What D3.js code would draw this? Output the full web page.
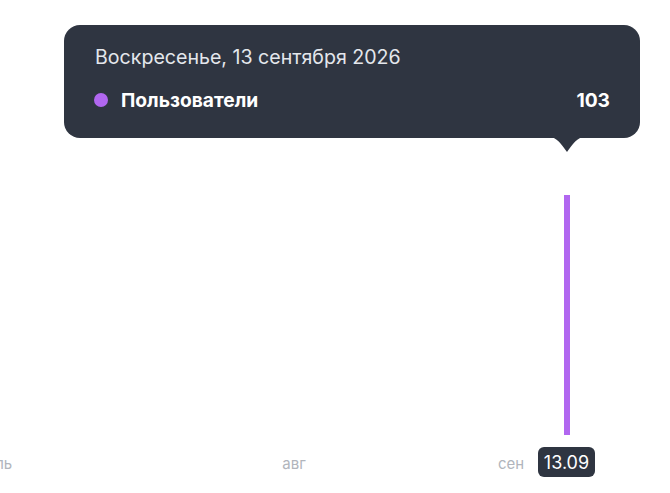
<!DOCTYPE html>
<html><head><meta charset="utf-8">
<script src="https://cdn.jsdelivr.net/npm/d3@7"></script>
<style>
html,body{margin:0;padding:0;background:#fff;}
svg{display:block;font-family:Inter,"Noto Sans",sans-serif;}
</style></head>
<body><svg id="c" width="670" height="493"></svg>
<script>
// ---- data ----
const seriesName = "Пользователи";
const dates = ["2026-09-13"];
const values = [103];
const tickDates = ["2026-06-23", "2026-08-05", "2026-09-05"];
const tickLabels = ["июль", "авг", "сен"];
const domainDates = ["2026-06-24", "2026-09-26"];
const tooltipTitle = "Воскресенье, 13 сентября 2026";
const activeLabel = "13.09";

const W = 670, H = 493;
const parse = d3.utcParse("%Y-%m-%d");
const svg = d3.select("#c");

const x = d3.scaleUtc().domain(domainDates.map(parse)).range([0, 658]);
const y = d3.scaleLinear().domain([0, 103]).range([435, 195]);

const purple = "#b167f0";
const dark = "#2f3541";

// bars
const data = dates.map((d, i) => ({date: parse(d), value: values[i]}));
svg.append("g").selectAll("rect").data(data).join("rect")
  .attr("x", d => x(d.date) - 3)
  .attr("width", 6)
  .attr("y", d => y(d.value))
  .attr("height", d => y(0) - y(d.value))
  .attr("fill", purple);

// x axis
const axisY = 469;
const ticks = tickDates.map((d, i) => ({date: parse(d), label: tickLabels[i]}));
svg.append("g").selectAll("text").data(ticks).join("text")
  .attr("x", d => x(d.date))
  .attr("y", axisY)
  .attr("text-anchor", "middle")
  .attr("font-size", 15)
  .attr("fill", "#b1b5bc")
  .text(d => d.label);

// active label
const ax = x(data[0].date);
const ag = svg.append("g");
ag.append("rect").attr("x", ax - 29).attr("y", 447).attr("width", 57).attr("height", 30)
  .attr("rx", 6).attr("fill", dark);
ag.append("text").attr("x", ax - 0.5).attr("y", 469).attr("text-anchor", "middle")
  .attr("font-size", 18).attr("fill", "#fff").text(activeLabel);

// tooltip
const tg = svg.append("g");
const bx0 = 64, bx1 = 640, by0 = 25, by1 = 138, r = 16;
tg.append("rect").attr("x", bx0).attr("y", by0).attr("width", bx1 - bx0).attr("height", by1 - by0)
  .attr("rx", r).attr("fill", dark);
// pointer
const px = ax, py = by1;
tg.append("path")
  .attr("d", `M${px-18},${py-1} C${px-10},${py-1} ${px-6},${py+6} ${px},${py+14} C${px+6},${py+6} ${px+10},${py-1} ${px+18},${py-1} Z`)
  .attr("fill", dark);
tg.append("text").attr("x", 95).attr("y", 64).attr("font-size", 19.6).attr("fill", "#e4e7ec")
  .text(tooltipTitle);
tg.append("circle").attr("cx", 101).attr("cy", 100).attr("r", 7).attr("fill", purple);
tg.append("text").attr("x", 121).attr("y", 107).attr("font-size", 19.2).attr("font-weight", 700)
  .attr("fill", "#fff").text(seriesName);
tg.append("text").attr("x", 610).attr("y", 107).attr("text-anchor", "end").attr("font-size", 19.2)
  .attr("font-weight", 700).attr("fill", "#fff").text(d3.format("d")(values[0]));
</script></body></html>
